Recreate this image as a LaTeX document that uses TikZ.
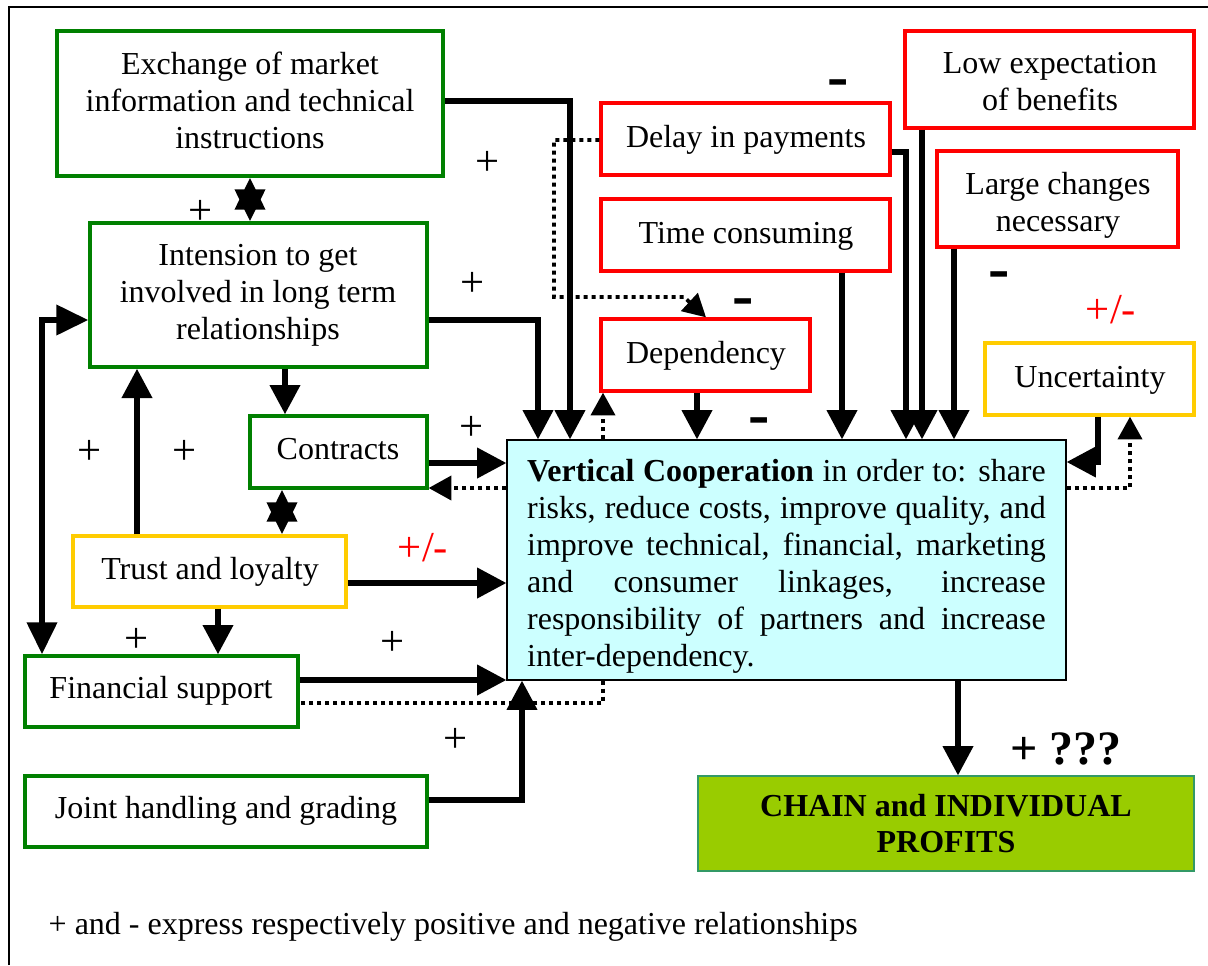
\documentclass[tikz,border=0pt]{standalone}
\usepackage{fontspec}
\setmainfont{Liberation Serif}
\usetikzlibrary{arrows.meta,fit,calc}
\definecolor{bgreen}{RGB}{0,128,0}
\definecolor{bred}{RGB}{255,0,0}
\definecolor{byellow}{RGB}{255,204,0}
\definecolor{vcfill}{RGB}{204,255,255}
\definecolor{chfill}{RGB}{153,204,0}
\definecolor{chborder}{RGB}{51,153,102}
\tikzset{
  base/.style={inner sep=0pt},
  gbox/.style={base, draw=bgreen, line width=2.5pt},
  rbox/.style={base, draw=bred, line width=2.5pt},
  ybox/.style={base, draw=byellow, line width=2.5pt},
  txt/.style={inner sep=0pt, align=center, font=\fontsize{24}{27.75}\selectfont,
    execute at begin node=\strut, execute at end node=\strut},
  arr/.style={line width=4.5pt, -{Triangle[length=22pt,width=22pt]}},
  dbl/.style={line width=4.5pt, {Triangle[length=24pt,width=22pt]}-{Triangle[length=24pt,width=22pt]}},
  darr/.style={line width=2.8pt, dash pattern=on 3pt off 3pt, -{Triangle[length=17pt,width=18pt]}},
  dline/.style={line width=2.8pt, dash pattern=on 3pt off 3pt},
  plus/.style={font=\fontsize{32}{36}\selectfont},
  minus/.style={font=\fontsize{48}{52}\selectfont\bfseries},
  pm/.style={font=\fontsize{32}{36}\selectfont, text=bred},
}
\begin{document}
\begin{tikzpicture}[x=0.75pt,y=-0.75pt]
\useasboundingbox (0,0) rectangle (1208,965);
\draw[line width=1pt] (9,965) -- (9,7) -- (1208,7);

% boxes
\node[gbox, fit={(57,31) (443,176)}] (ex) {};
\node[gbox, fit={(90,223) (427,367)}] (int) {};
\node[gbox, fit={(250,416) (427,488)}] (con) {};
\node[ybox, fit={(73,536) (346,607)}] (tr) {};
\node[gbox, fit={(25,656) (298,727)}] (fin) {};
\node[gbox, fit={(25,776) (427,847)}] (jh) {};
\node[rbox, fit={(601,103) (890,175)}] (del) {};
\node[rbox, fit={(601,199) (890,271)}] (tc) {};
\node[rbox, fit={(601,319) (810,391)}] (dep) {};
\node[rbox, fit={(905,31) (1194,128)}] (low) {};
\node[rbox, fit={(937,151) (1178,247)}] (lc) {};
\node[ybox, fit={(985,343) (1194,415)}] (unc) {};
\node[base, draw=black, line width=0.8pt, fill=vcfill, fit={(507,440) (1066,680)}] (vc) {};
\node[base, draw=chborder, line width=0.8pt, fill=chfill, fit={(698,776) (1194,871)}] (chain) {};

% texts
\node[txt] (ex-t) at (250,106) {Exchange of market\\information and technical\\instructions};
\node[txt] (int-t) at (258,297) {Intension to get\\involved in long term\\relationships};
\node[txt] (con-t) at (338,452) {Contracts};
\node[txt] (tr-t) at (210,572) {Trust and loyalty};
\node[txt] (fin-t) at (161,691) {Financial support};
\node[txt] (jh-t) at (226,811) {Joint handling and grading};
\node[txt] (del-t) at (746,140) {Delay in payments};
\node[txt] (tc-t) at (746,236) {Time consuming};
\node[txt] (dep-t) at (706,356) {Dependency};
\node[txt] (low-t) at (1050,87) {Low expectation\\of benefits};
\node[txt] (lc-t) at (1058,207) {Large changes\\necessary};
\node[txt] (unc-t) at (1090,380) {Uncertainty};
\node[txt, text width=389pt, align=justify] (vc-t) at (786.5,566.5)
 {\hyphenpenalty=10000\textbf{Vertical Cooperation} in order to: share\linebreak risks, reduce costs, improve quality, and\linebreak improve technical, financial, marketing\linebreak and consumer linkages, increase\linebreak responsibility of partners and increase\linebreak inter-dependency.};
\node[txt, font=\fontsize{24}{27}\selectfont\bfseries] (chain-t) at (946,829) {CHAIN and INDIVIDUAL\\PROFITS};

% connectors
\draw[arr] (ex.east |- 0,101) -| (vc.north -| 570,0);
\draw[arr] (int.east |- 0,320) -| (vc.north -| 538,0);
\draw[dbl] (ex.south -| 250,0) -- (int.north -| 250,0);
\draw[arr] (int.south -| 285,0) -- (con.north -| 285,0);
\draw[arr] (tr.north -| 137,0) -- (int.south -| 137,0);
\draw[dbl] (con.south -| 282,0) -- (tr.north -| 282,0);
\draw[arr] (tr.south -| 218,0) -- (fin.north -| 218,0);
\draw[dbl] (fin.north -| 42,0) |- (int.west |- 0,320);
\draw[arr] (con.east |- 0,463) -- (vc.west |- 0,463);
\draw[darr] (vc.west |- 0,488) -- (con.east |- 0,488);
\draw[arr] (tr.east |- 0,583) -- (vc.west |- 0,583);
\draw[arr] (fin.east |- 0,680) -- (vc.west |- 0,680);
\draw[dline] (vc.south -| 603,0) |- (fin.east |- 0,703);
\draw[arr] (jh.east |- 0,800) -| (vc.south -| 522,0);
\draw[darr] (vc.north -| 603,0) -- (dep.south -| 603,0);
\coordinate (p1) at (554,140);
\coordinate (p2) at (554,297);
\coordinate (p3) at (684,297);
\draw[darr] (del.west |- p1) -- (p1) -- (p2) -- (p3) -- (dep.north -| 706,0);
\draw[arr] (dep.south -| 697,0) -- (vc.north -| 697,0);
\draw[arr] (tc.south -| 842,0) -- (vc.north -| 842,0);
\draw[arr] (del.east |- 0,152) -| (vc.north -| 906,0);
\draw[arr] (low.south -| 922,0) -- (vc.north -| 922,0);
\draw[arr] (lc.south -| 954,0) -- (vc.north -| 954,0);
\draw[arr] (unc.south -| 1098,0) |- (vc.east |- 0,462);
\draw[darr] (vc.east |- 0,488) -| (unc.south -| 1130,0);
\draw[arr] (vc.south -| 958,0) -- (chain.north -| 958,0);

% signs
\node[plus] (s1) at (488,163) {+};
\node[plus] (s2) at (201,212) {+};
\node[plus] (s3) at (473,284) {+};
\node[plus] (s4) at (472,428) {+};
\node[plus] (s5) at (90,452) {+};
\node[plus] (s6) at (185,452) {+};
\node[plus] (s7) at (137,640) {+};
\node[plus] (s8) at (393,643) {+};
\node[plus] (s9) at (456,740) {+};
\node[minus] (m1) at (838,89) {-};
\node[minus] (m2) at (743,308) {-};
\node[minus] (m3) at (759,427) {-};
\node[minus] (m4) at (999,281) {-};
\node[pm] (pm1) at (423,548) {+/-};
\node[pm] (pm2) at (1111,310) {+/-};
\node[font=\fontsize{36}{40}\selectfont\bfseries] (q) at (1066,749) {+ ???};
\node[anchor=west, font=\fontsize{24}{27.75}\selectfont] (foot) at (44,927) {+ and - express respectively positive and negative relationships};
\end{tikzpicture}
\end{document}
